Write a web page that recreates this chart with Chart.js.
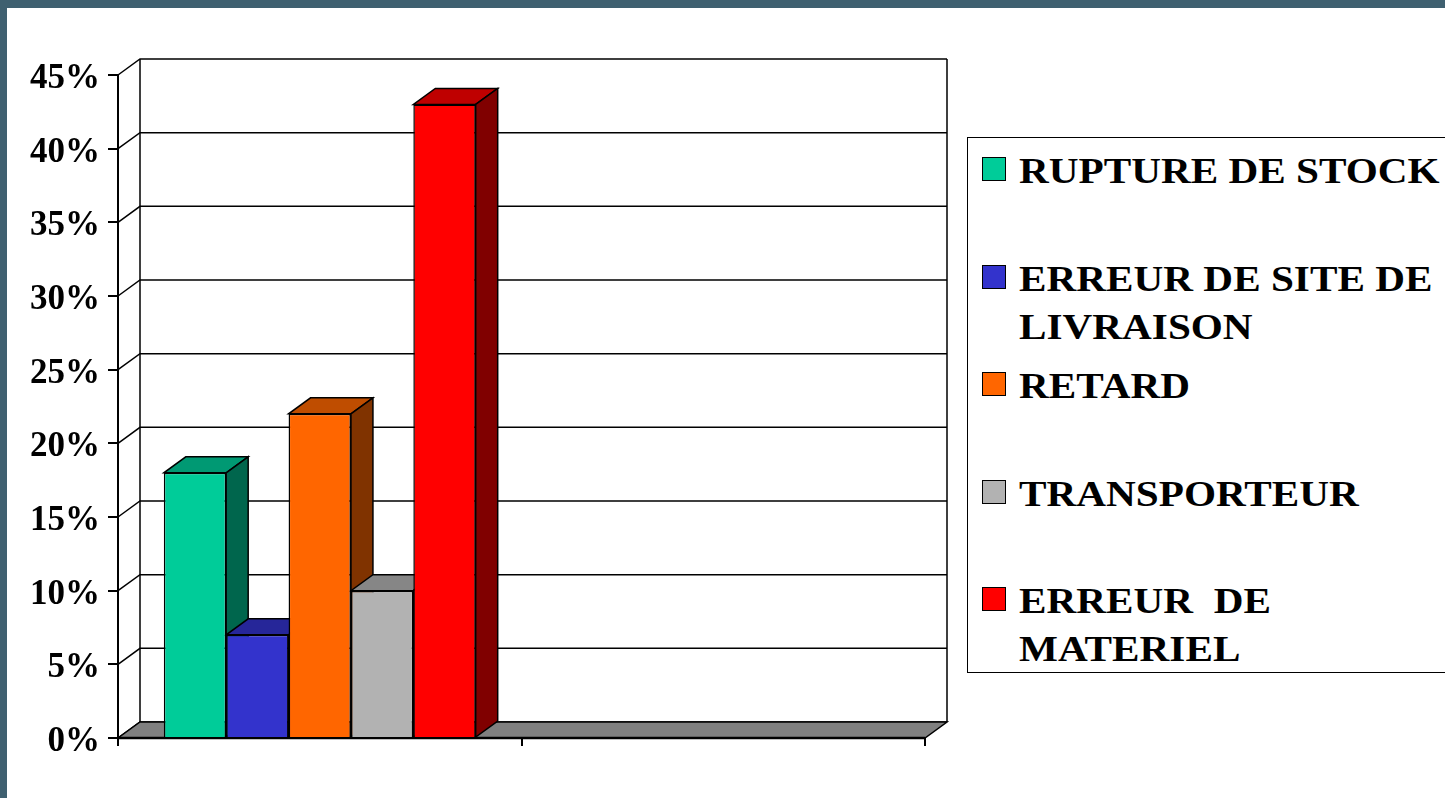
<!DOCTYPE html>
<html>
<head>
<meta charset="utf-8">
<script src="https://cdn.jsdelivr.net/npm/chart.js@4.4.0/dist/chart.umd.min.js"></script>
<style>
  html, body { margin: 0; padding: 0; overflow: hidden; background: #3f6070; }
  #frame { position: absolute; left: 7px; top: 8px; width: 1438px; height: 790px; background: #fff; overflow: hidden; }
  #myChart { position: absolute; left: 0; top: 0; }
  #legend { position: absolute; left: 960px; top: 129px; width: 520px; height: 536px;
            border: 1.5px solid #000; box-sizing: border-box; background: #fff; }
  .item { position: absolute; left: 0; width: 100%; height: 100px; }
  .box { position: absolute; left: 14px; top: 12px; width: 24px; height: 24px; border: 1.5px solid #000; box-sizing: border-box; }
  .txt { position: absolute; left: 51px; top: 2px; width: 376px; font: bold 36px "Liberation Serif", serif;
         line-height: 48px; color: #000; white-space: pre-wrap; transform: scaleX(1.145); transform-origin: left top; }
</style>
</head>
<body>
<div id="frame">
  <canvas id="myChart" width="1438" height="790"></canvas>
  <div id="legend"></div>
</div>
<script>
// data
const categories = ['', ''];
const seriesNames = ['RUPTURE DE STOCK', 'ERREUR DE SITE DE LIVRAISON', 'RETARD', 'TRANSPORTEUR', 'ERREUR  DE MATERIEL'];
const seriesValues = [
  [18, null],
  [7, null],
  [22, null],
  [10, null],
  [43, null]
];
const yTicks = [0, 5, 10, 15, 20, 25, 30, 35, 40, 45];

const colors = ['#00CC99', '#3333CC', '#FF6600', '#B2B2B2', '#FF0000'];
const floorColor = '#808080';
const DX = 22, DY = 16;

function shade(hex, f) {
  const n = parseInt(hex.slice(1), 16);
  const r = Math.round(((n >> 16) & 255) * f);
  const g = Math.round(((n >> 8) & 255) * f);
  const b = Math.round((n & 255) * f);
  return 'rgb(' + r + ',' + g + ',' + b + ')';
}

// back wall, floor, bar tops and sides
const bars3d = {
  id: 'bars3d',
  beforeDatasetsDraw(chart) {
    const ctx = chart.ctx, a = chart.chartArea, ys = chart.scales.y;
    ctx.save();
    ctx.strokeStyle = '#000';
    ctx.lineWidth = 1.5;
    ctx.lineJoin = 'miter';
    yTicks.forEach(v => {
      const py = ys.getPixelForValue(v);
      ctx.beginPath();
      ctx.moveTo(a.left, py);
      ctx.lineTo(a.left + DX, py - DY);
      ctx.lineTo(a.right + DX, py - DY);
      ctx.stroke();
    });
    ctx.beginPath();
    ctx.moveTo(a.left + DX, a.top - DY); ctx.lineTo(a.left + DX, a.bottom - DY);
    ctx.moveTo(a.right + DX, a.top - DY); ctx.lineTo(a.right + DX, a.bottom - DY);
    ctx.stroke();

    // floor
    ctx.fillStyle = floorColor;
    ctx.beginPath();
    ctx.moveTo(a.left, a.bottom);
    ctx.lineTo(a.right, a.bottom);
    ctx.lineTo(a.right + DX, a.bottom - DY);
    ctx.lineTo(a.left + DX, a.bottom - DY);
    ctx.closePath();
    ctx.fill();
    ctx.stroke();
    ctx.lineWidth = 2.5;
    ctx.beginPath(); ctx.moveTo(a.left, a.bottom); ctx.lineTo(a.right, a.bottom); ctx.stroke();

    ctx.lineWidth = 1.5;
    chart.data.datasets.forEach((ds, i) => {
      chart.getDatasetMeta(i).data.forEach((bar, j) => {
        if (ds.data[j] == null) return;
        const l = bar.x - bar.width / 2, r = bar.x + bar.width / 2, t = bar.y, b = bar.base;
        // top
        ctx.fillStyle = shade(colors[i], 0.75);
        ctx.beginPath();
        ctx.moveTo(l, t); ctx.lineTo(r, t); ctx.lineTo(r + DX, t - DY); ctx.lineTo(l + DX, t - DY);
        ctx.closePath(); ctx.fill(); ctx.stroke();
        // side
        ctx.fillStyle = shade(colors[i], 0.5);
        ctx.beginPath();
        ctx.moveTo(r, t); ctx.lineTo(r + DX, t - DY); ctx.lineTo(r + DX, b - DY); ctx.lineTo(r, b);
        ctx.closePath(); ctx.fill(); ctx.stroke();
      });
    });
    ctx.restore();
  }
};

const ctx = document.getElementById('myChart').getContext('2d');
const myChart = new Chart(ctx, {
  type: 'bar',
  data: {
    labels: categories,
    datasets: seriesNames.map((name, i) => ({
      label: name,
      data: seriesValues[i],
      backgroundColor: colors[i],
      borderColor: '#000',
      borderWidth: 1.5,
      categoryPercentage: 0.773,
      barPercentage: 1
    }))
  },
  options: {
    responsive: false,
    animation: false,
    layout: { padding: { left: 0, top: 67, right: 520, bottom: 0 } },
    plugins: { legend: { display: false }, tooltip: { enabled: false } },
    scales: {
      x: {
        grid: { drawOnChartArea: false, tickLength: 8, color: '#000', lineWidth: 2, offset: true },
        border: { display: true, color: '#000', width: 2 },
        ticks: { display: false },
        afterFit: s => { s.height = 60; }
      },
      y: {
        min: 0,
        max: 45,
        afterBuildTicks: s => { s.ticks = yTicks.map(v => ({ value: v })); },
        grid: { drawOnChartArea: false, tickLength: 10, color: '#000', lineWidth: 2 },
        border: { display: true, color: '#000', width: 2 },
        ticks: {
          color: '#000',
          padding: 8,
          labelOffset: 4,
          font: { family: 'Liberation Serif', weight: 'bold', size: 35 },
          callback: v => v + '%'
        },
        afterFit: s => { s.width = 111; }
      }
    }
  },
  plugins: [bars3d]
});

// legend
const legend = document.getElementById('legend');
myChart.data.datasets.forEach((ds, i) => {
  const item = document.createElement('div');
  item.className = 'item';
  item.style.top = (7 + i * 107.5) + 'px';
  const box = document.createElement('div');
  box.className = 'box';
  box.style.background = ds.backgroundColor;
  const txt = document.createElement('div');
  txt.className = 'txt';
  txt.textContent = ds.label;
  item.appendChild(box);
  item.appendChild(txt);
  legend.appendChild(item);
});
</script>
</body>
</html>
